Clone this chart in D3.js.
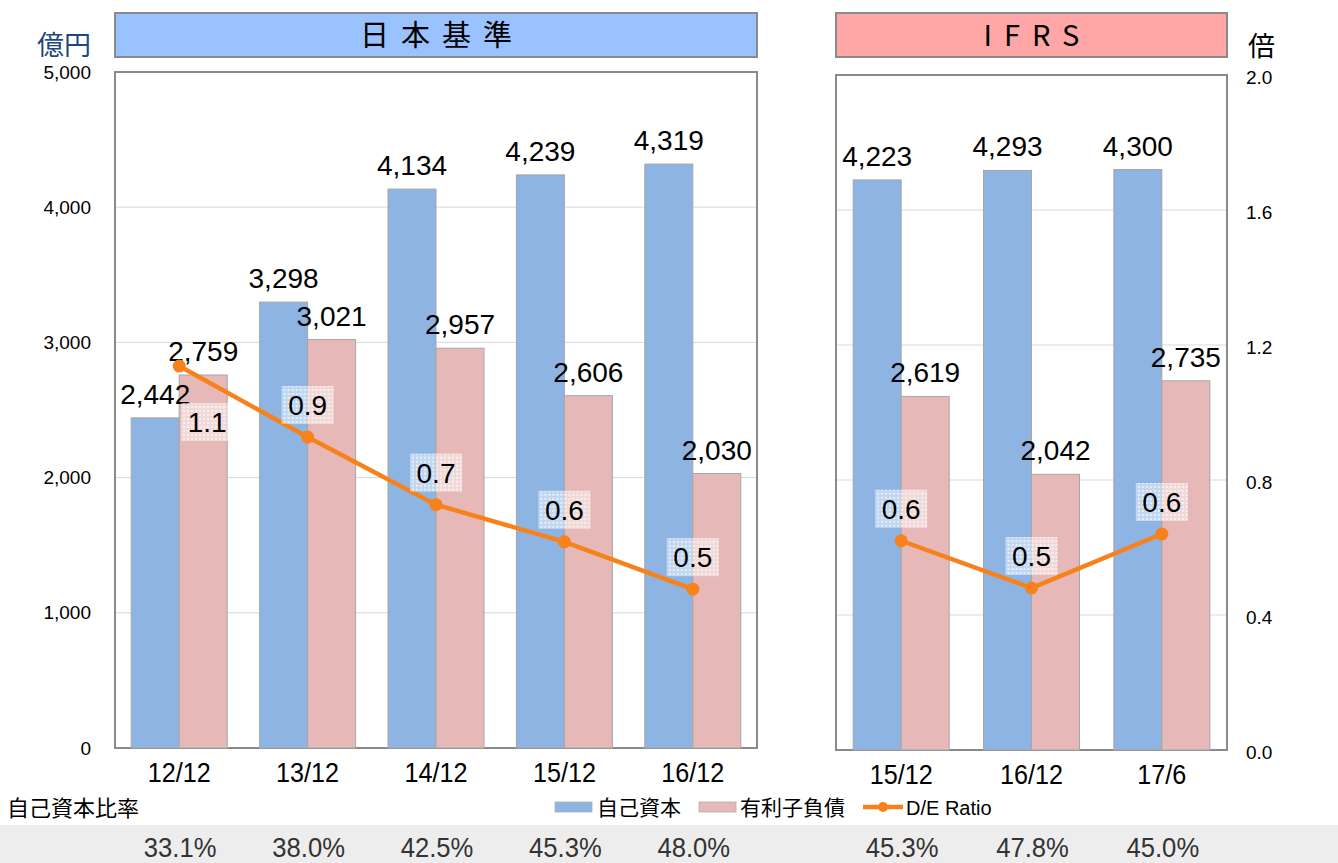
<!DOCTYPE html>
<html>
<head>
<meta charset="utf-8">
<script src="https://cdn.jsdelivr.net/npm/d3@7"></script>
<style>
  body { margin: 0; background: #fff; }
  text { font-family: "Liberation Sans", Arial, sans-serif; }
  .jp { font-family: "Noto Sans CJK JP", sans-serif; }
</style>
</head>
<body>
<div id="chart"></div>
<script>
/* data */
var jpCats = ["12/12", "13/12", "14/12", "15/12", "16/12"];
var jpEquity = [2442, 3298, 4134, 4239, 4319];
var jpDebt = [2759, 3021, 2957, 2606, 2030];
var jpRatio = [1.13, 0.92, 0.72, 0.61, 0.47];
var jpEquityRate = ["33.1%", "38.0%", "42.5%", "45.3%", "48.0%"];

var ifCats = ["15/12", "16/12", "17/6"];
var ifEquity = [4223, 4293, 4300];
var ifDebt = [2619, 2042, 2735];
var ifRatio = [0.62, 0.48, 0.64];
var ifEquityRate = ["45.3%", "47.8%", "45.0%"];

var leftTicks = [0, 1000, 2000, 3000, 4000, 5000];
var rightTicks = [0, 0.4, 0.8, 1.2, 1.6, 2.0];

var width = 1338, height = 863;
var blue = "#8EB4E3", pink = "#E6B9B8", orange = "#F7821B";

var svg = d3.select("#chart").append("svg")
  .attr("width", width)
  .attr("height", height);

// checkered background for ratio labels
var pat = svg.append("defs").append("pattern")
  .attr("id", "chk")
  .attr("width", 4).attr("height", 4)
  .attr("patternUnits", "userSpaceOnUse");
pat.append("rect").attr("width", 4).attr("height", 4).attr("fill", "#fff").attr("opacity", 0.45);
pat.append("rect").attr("width", 2).attr("height", 2).attr("fill", "#fff").attr("opacity", 0.6);

// bottom band
svg.append("rect")
  .attr("x", 0).attr("y", 825).attr("width", width).attr("height", 38)
  .attr("fill", "#EDEDED");

// text squeezed a bit horizontally (narrow look of the original)
function narrowText(sel, size, sx) {
  sel.attr("transform", function() {
    var t = d3.select(this);
    return "translate(" + t.attr("data-x") + "," + t.attr("data-y") + ") scale(" + sx + ",1)";
  })
  .attr("font-size", size)
  .attr("text-anchor", "middle");
}

function panel(opts) {
  var x = d3.scaleBand().domain(opts.cats).range([opts.x0, opts.x1]);
  var y = d3.scaleLinear().domain([0, 5000]).range([opts.y1, opts.y0]);
  var yr = d3.scaleLinear().domain([0, 2]).range([opts.y1, opts.y0]);
  var bw = 48;
  var mid = function(c) { return x(c) + x.bandwidth() / 2; };

  var g = svg.append("g");

  // title box
  g.append("rect")
    .attr("x", opts.x0).attr("y", 13)
    .attr("width", opts.x1 - opts.x0).attr("height", 44)
    .attr("fill", opts.titleFill)
    .attr("stroke", "#8a8a8a").attr("stroke-width", 2);
  g.append("text")
    .attr("class", "jp")
    .attr("x", (opts.x0 + opts.x1) / 2 + opts.spacing / 2).attr("y", 46)
    .attr("text-anchor", "middle")
    .attr("font-size", 29)
    .attr("letter-spacing", opts.spacing)
    .text(opts.title);

  // frame
  g.append("rect")
    .attr("x", opts.x0).attr("y", opts.y0)
    .attr("width", opts.x1 - opts.x0).attr("height", opts.y1 - opts.y0)
    .attr("fill", "#fff")
    .attr("stroke", "#8a8a8a").attr("stroke-width", 2);

  // gridlines
  g.selectAll(".grid")
    .data(leftTicks.slice(1, -1))
    .enter().append("line")
    .attr("x1", opts.x0 + 1).attr("x2", opts.x1 - 1)
    .attr("y1", function(d) { return y(d); })
    .attr("y2", function(d) { return y(d); })
    .attr("stroke", "#d9d9d9").attr("stroke-width", 1);

  // bars
  g.selectAll(".eq")
    .data(opts.equity)
    .enter().append("rect")
    .attr("x", function(d, i) { return mid(opts.cats[i]) - bw; })
    .attr("y", function(d) { return y(d); })
    .attr("width", bw)
    .attr("height", function(d) { return y(0) - y(d); })
    .attr("fill", blue).attr("stroke", "#a6a6a6").attr("stroke-width", 1);

  g.selectAll(".debt")
    .data(opts.debt)
    .enter().append("rect")
    .attr("x", function(d, i) { return mid(opts.cats[i]); })
    .attr("y", function(d) { return y(d); })
    .attr("width", bw)
    .attr("height", function(d) { return y(0) - y(d); })
    .attr("fill", pink).attr("stroke", "#a6a6a6").attr("stroke-width", 1);

  // bar value labels
  g.selectAll(".eqlab")
    .data(opts.equity)
    .enter().append("text")
    .attr("x", function(d, i) { return mid(opts.cats[i]) - bw / 2; })
    .attr("y", function(d) { return y(d) - 14; })
    .attr("text-anchor", "middle")
    .attr("font-size", 28)
    .text(function(d) { return d3.format(",")(d); });

  g.selectAll(".debtlab")
    .data(opts.debt)
    .enter().append("text")
    .attr("x", function(d, i) { return mid(opts.cats[i]) + bw / 2; })
    .attr("y", function(d) { return y(d) - 14; })
    .attr("text-anchor", "middle")
    .attr("font-size", 28)
    .text(function(d) { return d3.format(",")(d); });

  // D/E line
  var cx = function(d, i) { return mid(opts.cats[i]); };
  var line = d3.line()
    .x(function(d, i) { return cx(d, i); })
    .y(function(d) { return yr(d); });
  g.append("path")
    .datum(opts.ratio)
    .attr("d", line)
    .attr("fill", "none")
    .attr("stroke", orange).attr("stroke-width", 4.5);
  g.selectAll(".pt")
    .data(opts.ratio)
    .enter().append("circle")
    .attr("cx", cx)
    .attr("cy", function(d) { return yr(d); })
    .attr("r", 6.5)
    .attr("fill", orange);

  // ratio labels
  var rl = g.selectAll(".rl")
    .data(opts.ratio)
    .enter().append("g")
    .attr("transform", function(d, i) {
      // first label in the left panel sits below the point
      var dx = (opts.shiftFirst && i === 0) ? 28 : 0;
      var dy = (opts.shiftFirst && i === 0) ? 56 : -32;
      return "translate(" + (cx(d, i) + dx) + "," + (yr(d) + dy) + ")";
    });
  rl.append("rect")
    .attr("x", -26).attr("y", -19).attr("width", 52).attr("height", 38)
    .attr("fill", "url(#chk)");
  rl.append("text")
    .attr("y", 10)
    .attr("text-anchor", "middle")
    .attr("font-size", 28)
    .text(function(d) { return d3.format(".1f")(d); });

  // x labels
  g.selectAll(".xl")
    .data(opts.cats)
    .enter().append("text")
    .attr("data-x", function(d) { return mid(d); })
    .attr("data-y", opts.y1 + 34)
    .text(function(d) { return d; })
    .call(narrowText, 28, 0.9);

  // equity ratio row
  g.selectAll(".er")
    .data(opts.rate)
    .enter().append("text")
    .attr("data-x", function(d, i) { return mid(opts.cats[i]) + 1; })
    .attr("data-y", 857)
    .attr("fill", "#333")
    .text(function(d) { return d; })
    .call(narrowText, 27, 0.95);

  return { y: y, yr: yr };
}

var left = panel({
  cats: jpCats, equity: jpEquity, debt: jpDebt, ratio: jpRatio, rate: jpEquityRate,
  x0: 115, x1: 757, y0: 72, y1: 748,
  title: "日本基準", titleFill: "#99C2FF", spacing: 12, shiftFirst: true
});

var right = panel({
  cats: ifCats, equity: ifEquity, debt: ifDebt, ratio: ifRatio, rate: ifEquityRate,
  x0: 836, x1: 1227, y0: 75, y1: 750,
  title: "IFRS", titleFill: "#FFA6A6", spacing: 12, shiftFirst: false
});

// left axis
var yAxisL = d3.axisLeft(left.y)
  .tickValues(leftTicks)
  .tickFormat(d3.format(","))
  .tickSize(0).tickPadding(0);
svg.append("g")
  .attr("transform", "translate(91,0)")
  .call(yAxisL)
  .call(function(g) { g.select(".domain").remove(); })
  .selectAll("text")
  .attr("font-size", 19).attr("fill", "#000")
  .attr("font-family", "Liberation Sans, Arial, sans-serif");

// right axis
var yAxisR = d3.axisRight(right.yr)
  .tickValues(rightTicks)
  .tickFormat(d3.format(".1f"))
  .tickSize(0).tickPadding(0);
svg.append("g")
  .attr("transform", "translate(1246,2)")
  .call(yAxisR)
  .call(function(g) { g.select(".domain").remove(); })
  .selectAll("text")
  .attr("font-size", 19).attr("fill", "#000")
  .attr("font-family", "Liberation Sans, Arial, sans-serif");

// axis units
svg.append("text").attr("class", "jp")
  .attr("x", 37).attr("y", 55)
  .attr("font-size", 27).attr("fill", "#1F497D")
  .text("億円");
svg.append("text").attr("class", "jp")
  .attr("x", 1248).attr("y", 56)
  .attr("font-size", 27).attr("fill", "#000")
  .text("倍");

// equity ratio title
svg.append("text").attr("class", "jp")
  .attr("x", 7).attr("y", 816)
  .attr("font-size", 22)
  .text("自己資本比率");

// legend
var lg = svg.append("g").attr("transform", "translate(0,807)");
lg.append("rect").attr("x", 555).attr("y", -5).attr("width", 37).attr("height", 10)
  .attr("fill", blue).attr("stroke", "#b0b0b0").attr("stroke-width", 0.8);
lg.append("text").attr("class", "jp").attr("x", 597).attr("y", 8).attr("font-size", 21).text("自己資本");
lg.append("rect").attr("x", 699).attr("y", -5).attr("width", 37).attr("height", 10)
  .attr("fill", pink).attr("stroke", "#b0b0b0").attr("stroke-width", 0.8);
lg.append("text").attr("class", "jp").attr("x", 740).attr("y", 8).attr("font-size", 21).text("有利子負債");
lg.append("line").attr("x1", 863).attr("x2", 903).attr("y1", 0).attr("y2", 0)
  .attr("stroke", orange).attr("stroke-width", 4.5);
lg.append("circle").attr("cx", 883).attr("cy", 0).attr("r", 5).attr("fill", orange);
lg.append("text").attr("x", 906).attr("y", 8).attr("font-size", 20).text("D/E Ratio");
</script>
</body>
</html>
